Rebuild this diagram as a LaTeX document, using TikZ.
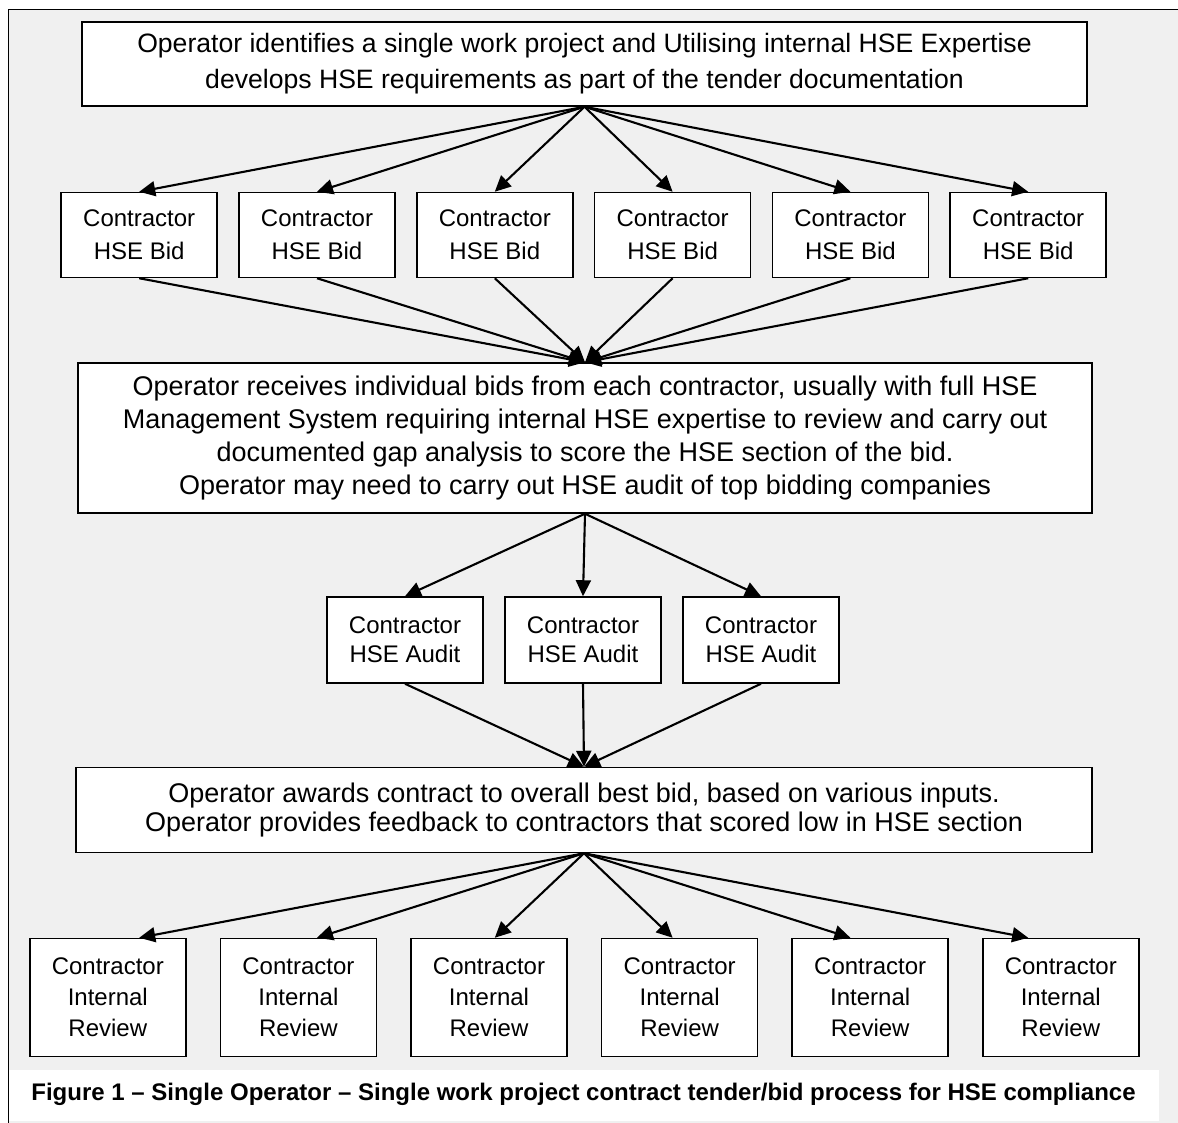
\documentclass[tikz,border=0pt]{standalone}
\usepackage{fontspec}
\setmainfont{Liberation Sans}
\usetikzlibrary{arrows.meta}
\definecolor{panelgray}{RGB}{240,240,240}
\tikzset{opbox/.style = {draw, fill=white, line width=0.75pt, align=center, inner sep=0pt}}
\tikzset{conbox/.style = {draw, fill=white, line width=0.75pt, align=center, inner sep=0pt, minimum width=78pt, font=\fontsize{12}{15.5}\selectfont}}
\tikzset{flow/.style = {-{Triangle[length=8pt,width=7.5pt]}, line width=1.05pt}}

\begin{document}
\begin{tikzpicture}[x=0.5pt, y=-0.5pt]
\useasboundingbox (0,0) rectangle (1178,1123);
\fill [white] (0,0) rectangle (1178,1123);
\fill [panelgray] (8,10) rectangle (1178,1123);
\draw [line width=0.5pt] (8,1123) -- (8,10) -- (1178,10);
\fill [white] (9,1070) rectangle (1159,1121);

\node [opbox, minimum width=502.5pt, minimum height=42pt, font=\fontsize{13.3}{18}\selectfont] (tender) at (584.5,64)
  {Operator identifies a single work project and Utilising internal HSE Expertise\\develops HSE requirements as part of the tender documentation};
\foreach \i in {1,...,6}
  \node [conbox, minimum height=42.5pt, font=\fontsize{12}{16.5}\selectfont] (bid\i) at ({139.2+177.8*(\i-1)},235) {Contractor\\HSE Bid};

\node [opbox, minimum width=507pt, minimum height=75pt, font=\fontsize{13.5}{16.5}\selectfont] (bidreview) at (585,438)
  {Operator receives individual bids from each contractor, usually with full HSE\\Management System requiring internal HSE expertise to review and carry out\\documented gap analysis to score the HSE section of the bid.\\Operator may need to carry out HSE audit of top bidding companies};
\foreach \i in {1,2,3}
  \node [conbox, minimum height=43pt, font=\fontsize{12}{14.5}\selectfont] (audit\i) at ({405+178*(\i-1)},640) {Contractor\\HSE Audit};

\node [opbox, minimum width=508pt, minimum height=42.5pt, font=\fontsize{13.5}{14.5}\selectfont] (award) at (584,810)
  {Operator awards contract to overall best bid, based on various inputs.\\Operator provides feedback to contractors that scored low in HSE section};
\foreach \i in {1,...,6}
  \node [conbox, minimum height=59pt] (intrev\i) at ({107.8+190.6*(\i-1)},997.5) {Contractor\\Internal\\Review};

\foreach \i in {1,...,6} {
  \draw [flow] (tender.south) -- (bid\i.north);
  \draw [flow] (bid\i.south) -- (bidreview.north);
  \draw [flow] (award.south) -- (intrev\i.north -| bid\i.south);
}
\foreach \i in {1,2,3} {
  \draw [flow] (bidreview.south) -- (audit\i.north);
  \draw [flow] (audit\i.south) -- (award.north);
}

\node [font=\fontsize{12}{14}\selectfont\bfseries] (caption) at (583.5,1094)
  {Figure 1 -- Single Operator -- Single work project contract tender/bid process for HSE compliance};
\end{tikzpicture}
\end{document}
